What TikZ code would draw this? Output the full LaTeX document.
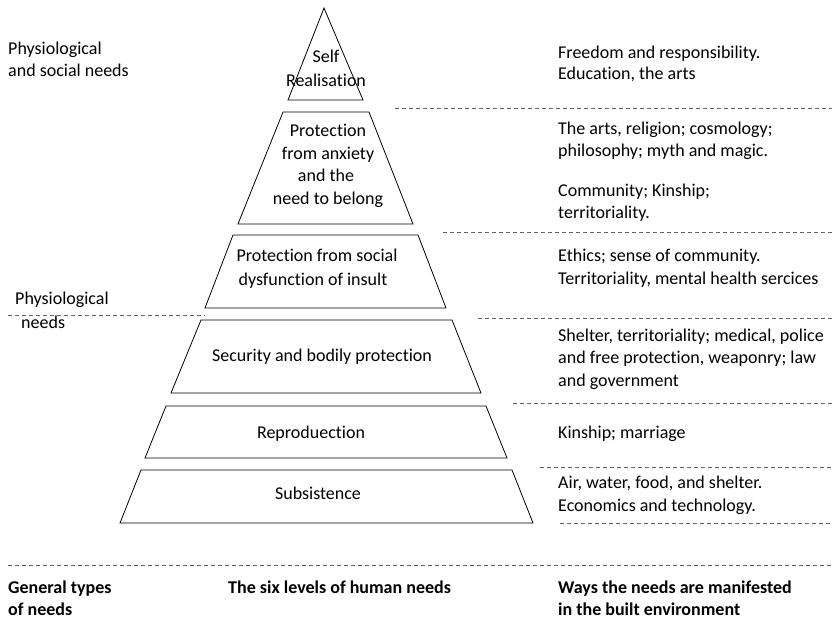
\documentclass[tikz,border=0pt]{standalone}
\usepackage{fontspec}
\setmainfont{Carlito}[Ligatures=NoCommon]
\begin{document}
\begin{tikzpicture}[x=1pt,y=-1pt,
  level/.style={draw=black,line width=0.8pt,line join=miter},
  sep/.style={draw=black!60,line width=0.8pt,dash pattern=on 4pt off 3pt},
  txt/.style={inner sep=0pt,font=\fontsize{18}{22}\selectfont},
  lft/.style={txt,anchor=base west},
  mid/.style={txt,anchor=base},
  head/.style={inner sep=0pt,anchor=base west,font=\fontsize{18}{22}\selectfont\bfseries}]
\useasboundingbox[fill=white] (0,0) rectangle (832,624);

% pyramid levels, top to bottom
\draw[level] (324,8) -- (363,100) -- (288,100) -- cycle;
\draw[level] (283,112) -- (369,112) -- (413,224) -- (238,224) -- cycle;
\draw[level] (233,235) -- (418,235) -- (446,308) -- (205,308) -- cycle;
\draw[level] (201,320) -- (452,320) -- (481,393) -- (171,393) -- cycle;
\draw[level] (166,406) -- (486,406) -- (507,458) -- (145,458) -- cycle;
\draw[level] (141,470) -- (512,470) -- (533,523) -- (120,523) -- cycle;

% level labels
\node[mid] (l1a) at (326,62) {Self};
\node[mid] (l1b) at (326,86) {Realisation};
\node[mid] (l2a) at (328,136) {Protection};
\node[mid] (l2b) at (328,159) {from anxiety};
\node[mid] (l2c) at (326,181) {and the};
\node[mid] (l2d) at (328,204) {need to belong};
\node[mid] (l3a) at (317,261) {Protection from social};
\node[mid] (l3b) at (313,285) {dysfunction of insult};
\node[mid] (l4) at (322,361) {Security and bodily protection};
\node[mid] (l5) at (311,438) {Reproduection};
\node[mid] (l6) at (318,499) {Subsistence};

% general types of needs
\node[lft] (g1a) at (8,54) {Physiological};
\node[lft] (g1b) at (8,76) {and social needs};
\node[lft] (g2a) at (15,304) {Physiological};
\node[lft] (g2b) at (21,328) {needs};
\coordinate (gs1) at (8,315);
\coordinate (gs2) at (205,315);
\draw[sep] (gs1) -- (gs2);

% ways the needs are manifested
\node[lft] (r1a) at (558,58) {Freedom and responsibility.};
\node[lft] (r1b) at (558,79) {Education, the arts};
\node[lft] (r2a) at (558,134) {The arts, religion; cosmology;};
\node[lft] (r2b) at (558,156) {philosophy; myth and magic.};
\node[lft] (r2c) at (558,196) {Community; Kinship;};
\node[lft] (r2d) at (558,218) {territoriality.};
\node[lft] (r3a) at (558,261) {Ethics; sense of community.};
\node[lft] (r3b) at (558,284) {Territoriality, mental health sercices};
\node[lft] (r4a) at (558,341) {Shelter, territoriality; medical, police};
\node[lft] (r4b) at (558,363) {and free protection, weaponry; law};
\node[lft] (r4c) at (558,386) {and government};
\node[lft] (r5) at (558,438) {Kinship; marriage};
\node[lft] (r6a) at (558,488) {Air, water, food, and shelter.};
\node[lft] (r6b) at (558,511) {Economics and technology.};

% separators on the right
\coordinate (s1a) at (395,108); \coordinate (s1b) at (832,108);
\coordinate (s2a) at (443,232); \coordinate (s2b) at (832,232);
\coordinate (s3a) at (478,318); \coordinate (s3b) at (832,318);
\coordinate (s4a) at (513,403); \coordinate (s4b) at (832,403);
\coordinate (s5a) at (540,467); \coordinate (s5b) at (832,467);
\coordinate (s6a) at (560,523); \coordinate (s6b) at (832,523);
\coordinate (s7a) at (8,565);   \coordinate (s7b) at (832,565);
\foreach \s in {1,...,7} \draw[sep] (s\s a) -- (s\s b);

% column headings
\node[head] (h1a) at (8,593) {General types};
\node[head] (h1b) at (8,615) {of needs};
\node[head] (h2) at (228,593) {The six levels of human needs};
\node[head] (h3a) at (558,593) {Ways the needs are manifested};
\node[head] (h3b) at (558,615) {in the built environment};
\end{tikzpicture}
\end{document}
